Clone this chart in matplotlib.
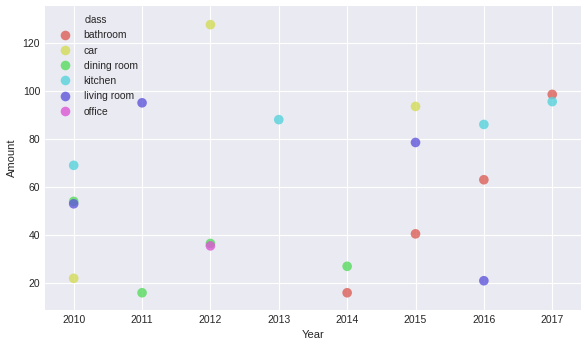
import matplotlib
matplotlib.use("Agg")
import matplotlib.pyplot as plt
import seaborn as sns
import pandas as pd

# values
years = [2010, 2010, 2010, 2010, 2011, 2011, 2012, 2012, 2012,
         2013, 2014, 2014, 2015, 2015, 2015, 2016, 2016, 2016, 2017, 2017]
amounts = [69, 54, 53, 22, 95, 16, 127.5, 36.5, 35.5,
           88, 27, 16, 93.5, 78.5, 40.5, 86, 63, 21, 98.5, 95.5]
classes = ["kitchen", "dining room", "living room", "car", "living room", "dining room",
           "car", "dining room", "office",
           "kitchen", "dining room", "bathroom", "car", "living room", "bathroom",
           "kitchen", "bathroom", "living room", "bathroom", "kitchen"]
order = ["bathroom", "car", "dining room", "kitchen", "living room", "office"]

df = pd.DataFrame({"Year": years, "Amount": amounts, "class": classes})

plt.style.use("seaborn-v0_8-darkgrid")
fig, ax = plt.subplots(figsize=(5.88, 3.48), dpi=100)
sns.scatterplot(data=df, x="Year", y="Amount", hue="class", hue_order=order,
                palette=sns.hls_palette(6), s=48, alpha=0.8, linewidth=0, ax=ax)
ax.set_xticks(range(2010, 2018))
ax.set_xlim(2009.58, 2017.42)
ax.set_ylim(8.8, 135.3)
ax.tick_params(labelsize=7.5)
ax.set_xlabel("Year", fontsize=8)
ax.set_ylabel("Amount", fontsize=8)
leg = ax.legend(title="class", loc="upper left", fontsize=7.5, title_fontsize=7, frameon=False)
fig.subplots_adjust(left=0.0765, right=0.988, top=0.983, bottom=0.109)
fig.savefig("out.png")
